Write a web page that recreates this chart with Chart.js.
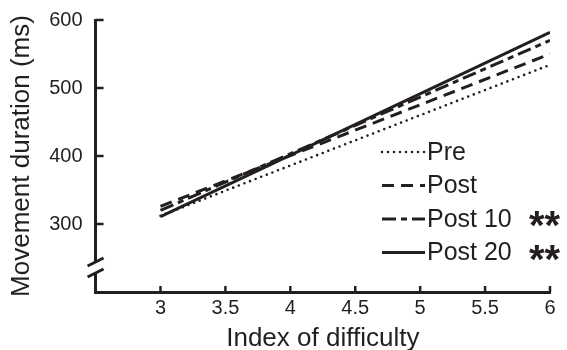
<!DOCTYPE html>
<html>
<head>
<meta charset="utf-8">
<script src="https://cdn.jsdelivr.net/npm/chart.js@4.4.1/dist/chart.umd.min.js"></script>
<style>
  html, body { margin: 0; padding: 0; background: #fff; }
  #wrap { width: 567px; height: 350px; }
</style>
</head>
<body>
<div id="wrap"><canvas id="c" width="567" height="350"></canvas></div>
<script>
// ---- data ----
const indexOfDifficulty = [3, 6];
const preValues    = [312, 534];
const postValues   = [326, 550];
const post10Values = [320, 570];
const post20Values = [311, 582];
const seriesNames  = ['Pre', 'Post', 'Post 10', 'Post 20'];
const significance = ['', '', '**', '**'];
const xTickValues  = [3, 3.5, 4, 4.5, 5, 5.5, 6];
const yTickValues  = [300, 400, 500, 600];

const INK = '#231f20';
const FONT = "'Liberation Sans', Arial, Helvetica, sans-serif";

function pts(ys) { return indexOfDifficulty.map((x, i) => ({ x: x, y: ys[i] })); }

const styles = [
  { dash: [0, 6],  cap: 'round', width: 2.6 },
  { dash: [12, 7], cap: 'butt',  width: 3 },
  { dash: [14, 5, 6, 5], cap: 'butt', width: 3 },
  { dash: [], cap: 'butt', width: 3 }
];
const allValues = [preValues, postValues, post10Values, post20Values];

const datasets = allValues.map((v, i) => ({
  label: seriesNames[i],
  data: pts(v),
  borderColor: INK,
  borderWidth: styles[i].width,
  borderDash: styles[i].dash,
  borderCapStyle: styles[i].cap,
  pointRadius: 0,
  fill: false,
  tension: 0
}));

const decorPlugin = {
  id: 'decor',
  afterDraw(chart) {
    const ctx = chart.ctx;
    const a = chart.chartArea;
    const xs = chart.scales.x, ys = chart.scales.y;
    ctx.save();
    ctx.strokeStyle = INK;
    ctx.lineCap = 'butt';
    // inward tick marks
    ctx.lineWidth = 2.5;
    yTickValues.forEach(v => {
      const py = ys.getPixelForValue(v);
      ctx.beginPath(); ctx.moveTo(a.left, py); ctx.lineTo(a.left + 8, py); ctx.stroke();
    });
    xTickValues.forEach(v => {
      const px = xs.getPixelForValue(v);
      ctx.beginPath(); ctx.moveTo(px, a.bottom); ctx.lineTo(px, a.bottom - 6); ctx.stroke();
    });
    // axis break
    const bx = a.left;
    const b1 = a.bottom - 30, b2 = a.bottom - 19;
    ctx.fillStyle = '#fff';
    ctx.fillRect(bx - 3, b1 + 1, 6, b2 - b1 - 2);
    ctx.lineWidth = 3;
    [b1, b2].forEach(cy => {
      ctx.beginPath(); ctx.moveTo(bx - 8, cy + 4); ctx.lineTo(bx + 8, cy - 4); ctx.stroke();
    });
    // legend
    const lx = a.right - 168;
    const top = a.top + 132;
    const step = 33.5;
    chart.data.datasets.forEach((ds, i) => {
      const y = top + i * step;
      ctx.save();
      ctx.strokeStyle = INK;
      ctx.lineWidth = ds.borderWidth;
      ctx.setLineDash(ds.borderDash);
      ctx.lineCap = ds.borderCapStyle;
      ctx.beginPath(); ctx.moveTo(lx, y); ctx.lineTo(lx + 43, y); ctx.stroke();
      ctx.restore();
      ctx.fillStyle = INK;
      ctx.font = '25px ' + FONT;
      ctx.textBaseline = 'middle';
      ctx.textAlign = 'left';
      ctx.fillText(ds.label, lx + 45, y + 1);
      if (significance[i]) {
        ctx.font = 'bold 40px ' + FONT;
        ctx.textBaseline = 'alphabetic';
        ctx.fillText(significance[i], a.right - 21, y + 20);
      }
    });
    ctx.restore();
  }
};

new Chart(document.getElementById('c'), {
  type: 'line',
  data: { datasets: datasets },
  options: {
    responsive: false,
    devicePixelRatio: 1,
    animation: false,
    layout: { padding: { top: 20, right: 17, bottom: 0, left: 2 } },
    plugins: { legend: { display: false }, tooltip: { enabled: false } },
    scales: {
      x: {
        type: 'linear',
        min: 2.5, max: 6,
        afterBuildTicks: s => { s.ticks = xTickValues.map(v => ({ value: v })); },
        grid: { display: false, drawTicks: false },
        border: { display: true, width: 3, color: INK },
        ticks: { color: INK, padding: 4, font: { family: FONT, size: 20 }, maxRotation: 0,
                 callback: v => String(v) },
        title: { display: true, text: 'Index of difficulty', color: INK,
                 font: { family: FONT, size: 26, lineHeight: 1 }, padding: { top: 2, bottom: -2 } }
      },
      y: {
        type: 'linear',
        min: 200, max: 600,
        afterBuildTicks: s => { s.ticks = yTickValues.map(v => ({ value: v })); },
        grid: { display: false, drawTicks: false },
        border: { display: true, width: 3, color: INK },
        ticks: { color: INK, padding: 13, font: { family: FONT, size: 20, lineHeight: 0.2 },
                 callback: v => String(v) },
        title: { display: true, text: 'Movement duration (ms)', color: INK,
                 font: { family: FONT, size: 26 }, padding: { top: 4, bottom: -1 } }
      }
    }
  },
  plugins: [decorPlugin]
});
</script>
</body>
</html>
